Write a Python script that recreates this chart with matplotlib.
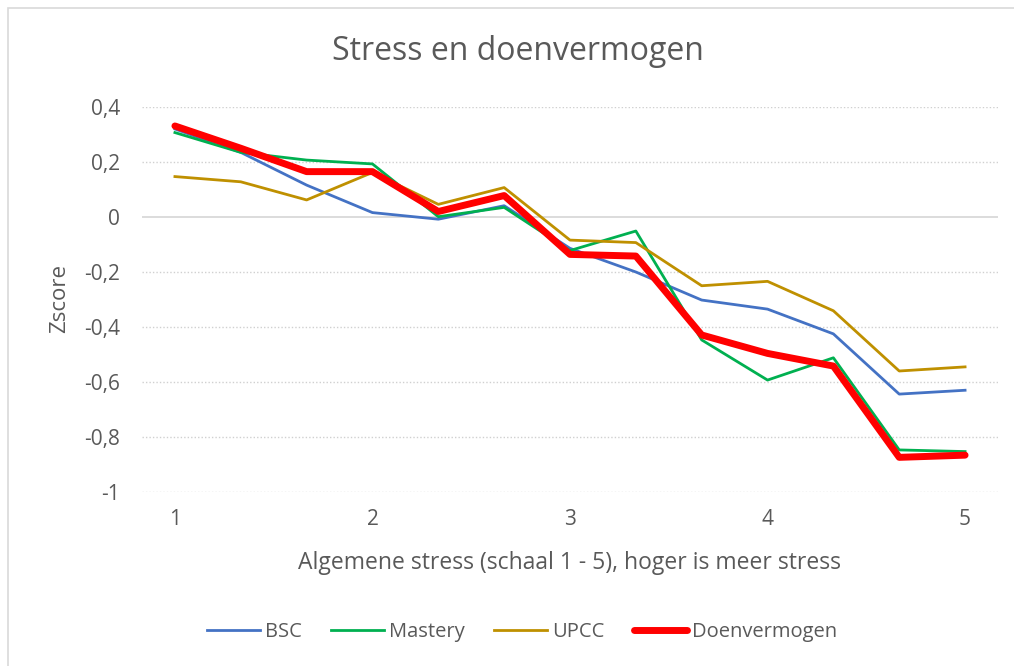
import matplotlib
matplotlib.use("Agg")
import matplotlib.pyplot as plt
from matplotlib.patches import Rectangle

x_values = [1, 4/3, 5/3, 2, 7/3, 8/3, 3, 10/3, 11/3, 4, 13/3, 14/3, 5]
bsc = [0.32, 0.235, 0.116, 0.016, -0.008, 0.041, -0.114, -0.200, -0.302, -0.335, -0.425, -0.644, -0.630]
mastery = [0.307, 0.235, 0.207, 0.193, 0.001, 0.035, -0.122, -0.051, -0.447, -0.593, -0.512, -0.847, -0.853]
upcc = [0.147, 0.128, 0.062, 0.162, 0.046, 0.107, -0.084, -0.093, -0.250, -0.234, -0.341, -0.560, -0.545]
doen = [0.331, 0.250, 0.165, 0.165, 0.020, 0.078, -0.136, -0.142, -0.429, -0.496, -0.542, -0.874, -0.866]
series_names = ["BSC", "Mastery", "UPCC", "Doenvermogen"]
x_ticks = [1, 2, 3, 4, 5]
y_ticks = [0.4, 0.2, 0, -0.2, -0.4, -0.6, -0.8, -1]
y_tick_labels = ["0,4", "0,2", "0", "-0,2", "-0,4", "-0,6", "-0,8", "-1"]

plt.rcParams['font.family'] = ['Open Sans', 'DejaVu Sans']
txt = '#595959'

W, H = 1014, 666
fig = plt.figure(figsize=(W/100, H/100), dpi=100)
ax = fig.add_axes([142/W, 1-492/H, (998-142)/W, (492-107)/H])

ax.set_xlim(1 - 1/6, 5 + 1/6)
ax.set_ylim(-1, 0.4)
for v in y_ticks:
    if v == 0:
        ax.axhline(v, color='#d9d9d9', lw=1.3, zorder=1)
    else:
        ax.axhline(v, color='#d0d0d0', lw=1.0, ls=(0, (1, 1.5)), zorder=1)

ax.plot(x_values, bsc, color='#4472c4', lw=2.0, label=series_names[0], zorder=3)
ax.plot(x_values, mastery, color='#00b050', lw=2.0, label=series_names[1], zorder=3)
ax.plot(x_values, upcc, color='#bf9000', lw=2.0, label=series_names[2], zorder=3)
ax.plot(x_values, doen, color='#ff0000', lw=5.0, label=series_names[3], zorder=4,
        solid_capstyle='round', solid_joinstyle='round')

for s in ax.spines.values():
    s.set_visible(False)
ax.set_xticks(x_ticks)
ax.set_xticklabels([str(t) for t in x_ticks])
ax.set_yticks(y_ticks)
ax.set_yticklabels(y_tick_labels)
ax.tick_params(length=0, colors=txt, labelsize=15)
ax.tick_params(axis='y', pad=16)
ax.tick_params(axis='x', pad=12)

fig.text(518/W, 1-52/H, "Stress en doenvermogen", ha='center', va='center', fontsize=23, color=txt)
fig.text(570/W, 1-563/H, "Algemene stress (schaal 1 - 5), hoger is meer stress", ha='center', va='center', fontsize=16.5, color=txt)
fig.text(60/W, 1-299/H, "Zscore", ha='center', va='center', rotation=90, fontsize=16, color=txt)

leg = fig.legend(loc='center', bbox_to_anchor=(522/W, 1-632/H), ncol=4, frameon=False,
                 fontsize=14.5, handlelength=2.63, columnspacing=1.45, handletextpad=0.25)
for t in leg.get_texts():
    t.set_color(txt)

fig.patches.append(Rectangle((8/W, -0.1), 1.2, 1 - 8/H + 0.1, transform=fig.transFigure,
                             fill=False, edgecolor='#d9d9d9', lw=1.2))

fig.savefig("out.png", dpi=100)
